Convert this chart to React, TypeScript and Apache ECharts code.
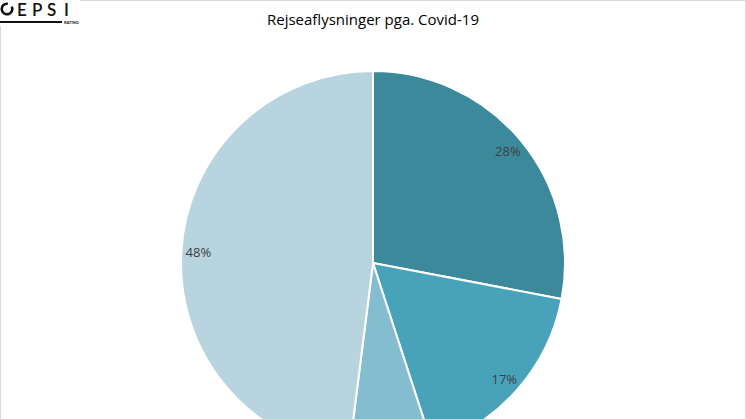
import React, { useEffect, useRef } from "react";
import * as echarts from "echarts";

const categories = ["A", "B", "C", "D"];
const values = [28, 17, 7, 48];
const colors = ["#3b899b", "#48a3ba", "#84bdcf", "#b7d4df"];
const title = "Rejseaflysninger pga. Covid-19";
const logoLetters = ["E", "P", "S", "I"];
const logoLetterX = [17, 32, 47, 64];

export default function App() {
  const ref = useRef<HTMLDivElement>(null);
  useEffect(() => {
    document.body.style.margin = "0";
    const chart = echarts.init(ref.current!, null, { renderer: "svg" });
    const data = categories.map((c, i) => ({
      name: c,
      value: values[i],
      itemStyle: { color: colors[i] },
    }));
    const labelData = categories.map((c, i) => ({ name: c, value: values[i] }));
    const letters = logoLetters.map((l, i) => ({
      type: "text",
      x: logoLetterX[i],
      y: 9,
      style: {
        text: l,
        fontFamily: "Lato",
        fontSize: 17,
        fontWeight: 600,
        fill: "#111111",
        verticalAlign: "middle",
      },
      silent: true,
    }));
    chart.setOption({
      animation: false,
      backgroundColor: "#ffffff",
      title: {
        text: title,
        left: "center",
        top: 6,
        textStyle: {
          fontFamily: "Open Sans",
          fontSize: 15,
          fontWeight: "normal",
          color: "#000000",
        },
      },
      graphic: [
        {
          type: "rect",
          shape: { x: 0.5, y: 0.5, width: 745, height: 430 },
          style: { fill: "none", stroke: "#d9d9d9", lineWidth: 1 },
          silent: true,
        },
        {
          type: "rect",
          shape: { x: 0, y: 0, width: 80, height: 26 },
          style: { fill: "#ffffff" },
          silent: true,
        },
        {
          type: "arc",
          shape: { cx: 7, cy: 9, r: 5.3, startAngle: -Math.PI * 0.15, endAngle: Math.PI * 1.55, clockwise: true },
          style: { stroke: "#111111", lineWidth: 2.6, fill: "none" },
          silent: true,
        },
        ...letters,
        {
          type: "line",
          shape: { x1: 0, y1: 22, x2: 62, y2: 22 },
          style: { stroke: "#111111", lineWidth: 2 },
          silent: true,
        },
        {
          type: "text",
          x: 64,
          y: 20,
          style: {
            text: "RATING",
            fontFamily: "Lato",
            fontSize: 4,
            fontWeight: "bold",
            fill: "#111111",
          },
          silent: true,
        },
      ],
      series: [
        {
          type: "pie",
          center: [373, 263],
          radius: [0, 192],
          startAngle: 90,
          clockwise: true,
          data,
          label: { show: false },
          labelLine: { show: false },
          itemStyle: { borderColor: "#ffffff", borderWidth: 2 },
          emphasis: { disabled: true },
          silent: true,
        },
        {
          type: "pie",
          center: [373, 263],
          radius: [152, 192],
          startAngle: 90,
          clockwise: true,
          data: labelData,
          itemStyle: { color: "rgba(0,0,0,0)" },
          label: {
            show: true,
            position: "inside",
            formatter: (p: any) => (p.value >= 10 ? p.value + "%" : ""),
            fontFamily: "Open Sans",
            fontSize: 13,
            color: "#404040",
          },
          labelLine: { show: false },
          emphasis: { disabled: true },
          silent: true,
        },
      ],
    });
    return () => chart.dispose();
  }, []);
  return <div ref={ref} style={{ width: 746, height: 419 }} />;
}
